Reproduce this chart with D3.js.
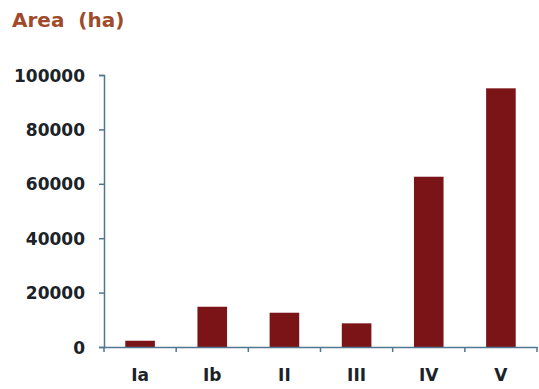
<!DOCTYPE html>
<html><head><meta charset="utf-8">
<script src="https://cdn.jsdelivr.net/npm/d3@7"></script>
<style>body{margin:0;background:#fff}svg{display:block}</style>
</head><body><svg id="c" width="539" height="389"></svg>
<script>
const categories = ["Ia","Ib","II","III","IV","V"];
const areaValues = [2300, 14800, 12600, 8700, 62600, 95100];
const yTicks = [0, 20000, 40000, 60000, 80000, 100000];
const titleText = "Area  (ha)";

(function(){
const svg = d3.select("#c");
const mL = 104, mR = 537, mT = 75, mB = 347;
const x = d3.scaleBand().domain(categories).range([mL, mR]).padding(0);
const y = d3.scaleLinear().domain([0, 100000]).range([mB, mT]);
const axisColor = "#4f7890";
const font = "'DejaVu Sans', Arial, sans-serif";

svg.append("text").attr("x", 12).attr("y", 27).text(titleText)
  .attr("font-family", font).attr("font-weight", "bold").attr("font-size", 20)
  .attr("fill", "#a04a2c").style("white-space","pre");

const bw = x.bandwidth() * 0.41;
svg.selectAll("rect.bar").data(areaValues).join("rect").attr("class","bar")
  .attr("x", (d,i) => x(categories[i]) + (x.bandwidth()-bw)/2)
  .attr("width", bw)
  .attr("y", d => y(d))
  .attr("height", d => mB - y(d))
  .attr("fill", "#7a1416");

const ya = svg.append("g").attr("transform", `translate(${mL},0)`)
  .call(d3.axisLeft(y).tickValues(yTicks).tickSize(5).tickPadding(14).tickFormat(d3.format("d")));
ya.select(".domain").attr("stroke", axisColor).attr("stroke-width", 1.5);
ya.selectAll(".tick line").attr("stroke", axisColor).attr("stroke-width", 1.5);
ya.selectAll(".tick text").attr("font-family", font).attr("font-weight","bold")
  .attr("font-size", 17).attr("fill", "#1b2228").attr("dy","0.36em");

const xa = svg.append("g").attr("transform", `translate(0,${mB})`)
  .call(d3.axisBottom(x).tickSize(0).tickPadding(22));
xa.select(".domain").attr("stroke", axisColor).attr("stroke-width", 1.5);
xa.selectAll(".tick text").attr("font-family", font).attr("font-weight","bold")
  .attr("font-size", 17).attr("fill", "#1b2228");
const bounds = categories.map(c => x(c)).concat([x(categories[categories.length-1]) + x.bandwidth()]);
xa.selectAll("line.bt").data(bounds).join("line").attr("class","bt")
  .attr("x1", d => d).attr("x2", d => d).attr("y1", 0).attr("y2", 5)
  .attr("stroke", axisColor).attr("stroke-width", 1.5);
})();
</script></body></html>
